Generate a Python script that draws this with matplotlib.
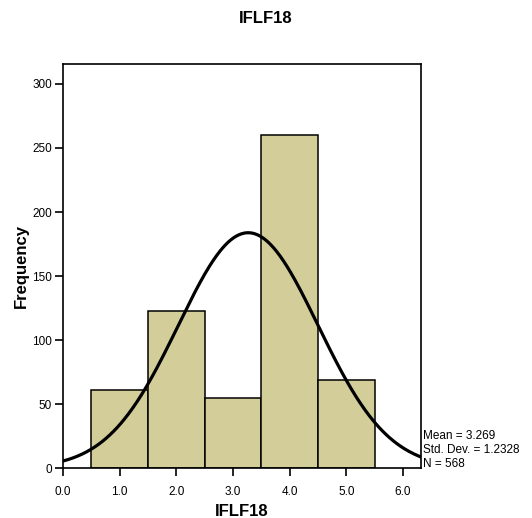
import numpy as np
import matplotlib.pyplot as plt

plt.rcParams["font.family"] = ["Liberation Sans", "DejaVu Sans"]

# IFLF18 frequency counts per value
bin_centers = [1.0, 2.0, 3.0, 4.0, 5.0]
counts = [61, 123, 55, 260, 69]
mean = 3.269
std_dev = 1.2328
n = 568
bin_width = 1.0

x_ticks = [0.0, 1.0, 2.0, 3.0, 4.0, 5.0, 6.0]
y_ticks = [0, 50, 100, 150, 200, 250, 300]

fig = plt.figure(figsize=(5.32, 5.18), dpi=100)
ax = fig.add_axes([0.1184, 0.0965, 0.6730, 0.7799])

ax.bar(bin_centers, counts, width=bin_width, color="#D3CE99",
       edgecolor="black", linewidth=1.1, zorder=2)

# normal curve scaled to counts
xs = np.linspace(0, 6.32, 400)
ys = n * bin_width / (std_dev * np.sqrt(2 * np.pi)) * np.exp(-0.5 * ((xs - mean) / std_dev) ** 2)
ax.plot(xs, ys, color="black", linewidth=2.3, zorder=3)

ax.set_xlim(0, 6.32)
ax.set_ylim(0, 315.6)
ax.set_xticks(x_ticks)
ax.set_xticklabels([f"{t:.1f}" for t in x_ticks])
ax.set_yticks(y_ticks)
ax.tick_params(direction="out", length=6, width=1.2, labelsize=8.5)
ax.tick_params(axis="x", pad=7)
ax.tick_params(axis="y", pad=2)
for sp in ax.spines.values():
    sp.set_linewidth(1.2)

ax.set_xlabel("IFLF18", fontsize=12, fontweight="bold", labelpad=4)
ax.set_ylabel("Frequency", fontsize=12, fontweight="bold", labelpad=2)
fig.text(0.5, 0.965, "IFLF18", ha="center", va="center",
         fontsize=12, fontweight="bold")

stats = f"Mean = {mean}\nStd. Dev. = {std_dev}\nN = {n}"
ax.text(1.006, -0.005, stats, transform=ax.transAxes, ha="left", va="bottom",
        fontsize=8.5, linespacing=1.2)

fig.savefig("out.png", dpi=100)
